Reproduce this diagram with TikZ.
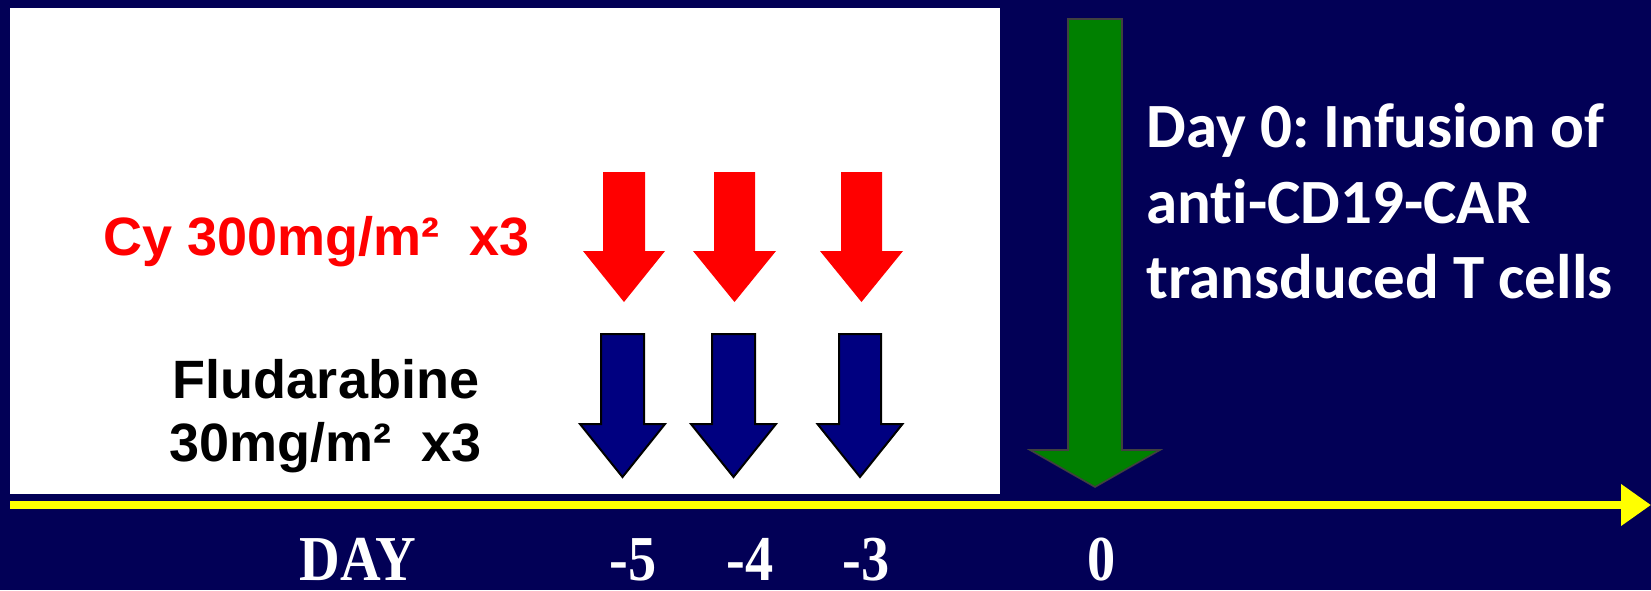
\documentclass[tikz,border=0pt]{standalone}
\usepackage{fontspec}
\setmainfont{Liberation Sans}
\newfontfamily\calfont{Carlito}[Ligatures=NoCommon]
\newfontfamily\serfont{Liberation Serif}
\usetikzlibrary{arrows.meta}
\definecolor{bgnavy}{RGB}{2,0,86}
\definecolor{arrnavy}{RGB}{0,0,128}
\definecolor{arrgreen}{RGB}{0,128,0}
\definecolor{arrred}{RGB}{255,0,0}
\definecolor{axisyellow}{RGB}{255,255,0}
% style, cx, top, halfshaft, headbase, halfhead, tip
\newcommand\darrowpath[7]{%
  \path[#1] ({#2-#4},#3) -- ({#2+#4},#3) -- ({#2+#4},#5) -- ({#2+#6},#5)
    -- (#2,#7) -- ({#2-#6},#5) -- ({#2-#4},#5) -- cycle;}
\tikzset{
  redarr/.style={fill=arrred},
  bluearr/.style={fill=arrnavy, draw=black, line width=1pt, line join=miter},
  greenarr/.style={fill=arrgreen, draw=black!75, line width=0.8pt, line join=miter},
  lefttext/.style={inner sep=0pt, anchor=base, font=\fontsize{27}{32}\selectfont\bfseries\frenchspacing},
  righttext/.style={inner sep=0pt, anchor=base west, text=white, font=\calfont\fontsize{31.5}{37}\selectfont\bfseries\frenchspacing},
  daytext/.style={inner sep=0pt, anchor=base, text=white, text depth=0pt, xscale=0.88, font=\serfont\fontsize{32}{36}\selectfont\bfseries},
}
\begin{document}
\begin{tikzpicture}[x=0.5pt,y=-0.5pt]
\fill[bgnavy] (0,0) rectangle (1651,590);
\useasboundingbox (0,0) rectangle (1651,590);
% white panel
\fill[white] (10,8) rectangle (1000,494);
% time axis
\coordinate (axs) at (10,505);
\coordinate (axe) at (1651,505);
\draw[axisyellow, line width=4pt, -{Triangle[length=15pt,width=20pt]}] (axs) -- (axe);
% red arrows (Cy)
\darrowpath{redarr}{624}{172}{21}{251}{41}{302}
\darrowpath{redarr}{734.5}{172}{20.5}{251}{41.5}{302}
\darrowpath{redarr}{861.5}{172}{20.5}{251}{41.5}{302}
% blue arrows (Fludarabine)
\darrowpath{bluearr}{622.5}{334}{21.5}{424}{42.5}{477}
\darrowpath{bluearr}{733.5}{334}{21.5}{424}{42.5}{477}
\darrowpath{bluearr}{860}{334}{21}{424}{42.5}{477}
% green arrow (day 0)
\darrowpath{greenarr}{1095}{19}{27}{450}{65}{487}
% left labels
\node[lefttext, text=arrred] (cy) at (317,255) {Cy 300mg/m²\ \ x3};
\node[lefttext, text=black] (flu1) at (326,398) {Fludarabine};
\node[lefttext, text=black] (flu2) at (326,461) {30mg/m²\ \ x3};
% right labels
\node[righttext] (r1) at (1146,147) {Day 0: Infusion of};
\node[righttext] (r2) at (1146,223) {anti-CD19-CAR};
\node[righttext] (r3) at (1146,298) {transduced T cells};
% day labels
\node[daytext] (day) at (358,580) {DAY};
\node[daytext] (dm5) at (633,580) {-5};
\node[daytext] (dm4) at (750,580) {-4};
\node[daytext] (dm3) at (866,580) {-3};
\node[daytext] (d0) at (1102,580) {0};
\end{tikzpicture}
\end{document}
